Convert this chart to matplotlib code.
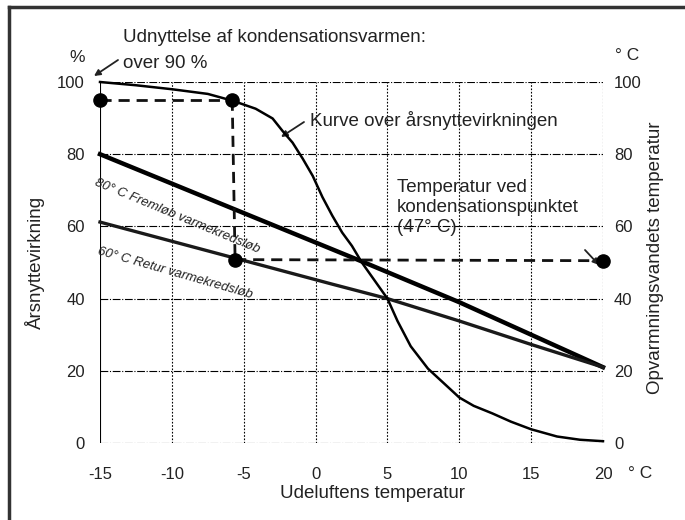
import matplotlib.pyplot as plt
from matplotlib.lines import Line2D

plt.rcParams['font.family'] = ['Liberation Sans', 'DejaVu Sans']
plt.rcParams['axes.unicode_minus'] = False

# udeluftens temperatur / aarsnyttevirkning kurve (aflaest)
curve_x = [-15, -12.5, -10, -7.5, -5.76, -4.17, -2.99, -2.29, -1.6, -0.9, -0.2, 0.48, 1.16, 1.85,
           2.53, 3.22, 4.11, 5, 5.7, 6.62, 7.82, 8.94, 10, 11.0, 12.3, 13.6, 15, 16.8, 18.4, 20]
curve_y = [100, 99.1, 98.0, 96.7, 94.8, 92.6, 89.9, 86.4, 83.2, 78.8, 74.0, 68.1, 63.0, 58.3,
           54.6, 50, 45, 40, 33.8, 26.8, 20.6, 16.5, 12.6, 10.3, 8.2, 5.9, 3.8, 1.8, 0.9, 0.5]

# 80 C fremloeb
frem_x = [-15, 3.4, 10, 20]
frem_y = [80, 50, 39, 21]

# 60 C retur
retur_x = [-15, -5.6, 1.16, 5, 10, 15, 20]
retur_y = [61.2, 51.2, 44, 40, 33.8, 27.3, 21]

# markerede punkter
dot_x = [-15, -5.8, -5.6, 20]
dot_y = [95.1, 95.1, 50.8, 50.5]

x_ticks = [-15, -10, -5, 0, 5, 10, 15, 20]
y_ticks = [0, 20, 40, 60, 80, 100]

txt = '#222222'
W, H = 685, 520


def fx(px):
    return px / W


def fy(py):
    return 1 - py / H


fig = plt.figure(figsize=(6.85, 5.2), dpi=100)
ax = fig.add_axes([fx(100), fy(443), (603 - 100) / W, (443 - 82) / H])
ax.set_xlim(-15, 20)
ax.set_ylim(0, 100)
for s in ax.spines.values():
    s.set_visible(False)

# gitter
for yv in y_ticks:
    ax.axhline(yv, color='black', lw=0.8, ls=(0, (7, 1.5, 1, 1.5)), zorder=1)
for xv in x_ticks:
    ls = '-' if xv == -15 else (0, (1.5, 1.5))
    ax.axvline(xv, color='black', lw=0.8, ls=ls, zorder=1)

ax.set_xticks(x_ticks)
ax.set_yticks(y_ticks)
ax.tick_params(length=0, labelsize=12, labelcolor=txt)
ax.tick_params(axis='x', pad=17)
ax.tick_params(axis='y', pad=11)

ax2 = ax.twinx()
ax2.set_ylim(0, 100)
ax2.set_yticks(y_ticks)
ax2.tick_params(length=0, labelsize=12, labelcolor=txt, pad=8)
for s in ax2.spines.values():
    s.set_visible(False)

# kurver
ax.plot(frem_x, frem_y, color='black', lw=3.2, zorder=3, clip_on=False)
ax.plot(retur_x, retur_y, color='#1a1a1a', lw=2.4, zorder=3, clip_on=False)
ax.plot(curve_x, curve_y, color='black', lw=1.8, zorder=4, clip_on=False, solid_joinstyle='round')

# stiplede hjaelpelinjer
dash = dict(color='#111111', lw=2, ls=(0, (4, 2.5)), zorder=3)
ax.plot([dot_x[0], dot_x[1]], [dot_y[0], dot_y[1]], **dash)
ax.plot([dot_x[1], dot_x[2]], [dot_y[1], dot_y[2]], **dash)
ax.plot([dot_x[2], dot_x[3]], [dot_y[2], dot_y[3]], **dash)
ax.scatter(dot_x, dot_y, s=90, color='black', zorder=5, clip_on=False)

# akse-tekster
fig.text(fx(77), fy(57), '%', fontsize=12.5, color=txt, ha='center', va='center')
fig.text(fx(627), fy(55), '° C', fontsize=12.5, color=txt, ha='center', va='center')
fig.text(fx(640), fy(473), '° C', fontsize=12.5, color=txt, ha='center', va='center')
fig.text(fx(372), fy(493), 'Udeluftens temperatur', fontsize=13.5, color=txt, ha='center', va='center')
fig.text(fx(35), fy(262), 'Årsnyttevirkning', fontsize=13.5, color=txt, ha='center', va='center',
         rotation=90)
fig.text(fx(655), fy(258), 'Opvarmningsvandets temperatur', fontsize=13.5, color=txt, ha='center',
         va='center', rotation=90)

# annoteringer
fs = 13.5
fig.text(fx(123), fy(38), 'Udnyttelse af kondensationsvarmen:', fontsize=fs, color=txt, va='center')
fig.text(fx(123), fy(63), 'over 90 %', fontsize=fs, color=txt, va='center')
fig.text(fx(310), fy(120), 'Kurve over årsnyttevirkningen', fontsize=fs, color=txt, va='center')
fig.text(fx(397), fy(187), 'Temperatur ved', fontsize=fs, color=txt, va='center')
fig.text(fx(397), fy(208), 'kondensationspunktet', fontsize=fs, color=txt, va='center')
fig.text(fx(397), fy(228), '(47° C)', fontsize=fs, color=txt, va='center')

fig.text(fx(177), fy(216), '80° C Fremløb varmekredsløb', fontsize=9.5, style='italic', color=txt,
         ha='center', va='center', rotation=-22.5, rotation_mode='anchor')
fig.text(fx(175), fy(273), '60° C Retur varmekredsløb', fontsize=9.5, style='italic', color=txt,
         ha='center', va='center', rotation=-16, rotation_mode='anchor')

arrows = [((118, 60), (94, 76)), ((304, 122), (281, 137)), ((585, 250), (599, 265))]
for (x0, y0), (x1, y1) in arrows:
    ax.annotate('', xy=(fx(x1), fy(y1)), xytext=(fx(x0), fy(y0)), xycoords='figure fraction',
                textcoords='figure fraction',
                arrowprops=dict(arrowstyle='-|>', color='#222222', lw=1.3, mutation_scale=9,
                                shrinkA=0, shrinkB=0))

# ramme (venstre og top)
fig.add_artist(Line2D([fx(9), fx(9)], [fy(7), 0], color='#333333', lw=2.5))
fig.add_artist(Line2D([fx(9), 1], [fy(7), fy(7)], color='#333333', lw=2.5))

fig.savefig('out.png', dpi=100)
